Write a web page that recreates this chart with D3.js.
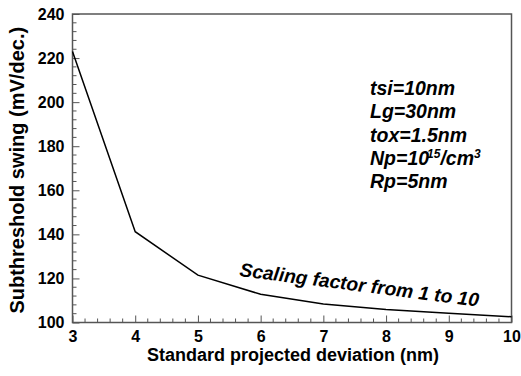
<!DOCTYPE html>
<html>
<head>
<meta charset="utf-8">
<script src="https://cdn.jsdelivr.net/npm/d3@7"></script>
<style>
  body { margin: 0; background: #fff; }
  svg { display: block; font-family: "Liberation Sans", Arial, sans-serif; }
</style>
</head>
<body>
<div id="chart"></div>
<script>
// data
const deviation = [3, 4, 5, 6, 7, 8, 9, 10];
const swing = [223, 141.2, 121.5, 112.8, 108.4, 105.9, 104.2, 102.6];
const xTicks = [3, 4, 5, 6, 7, 8, 9, 10];
const yTicks = [100, 120, 140, 160, 180, 200, 220, 240];
const paramLines = ["tsi=10nm", "Lg=30nm", "tox=1.5nm", "Np=10", "Rp=5nm"];

const W = 521, H = 376;
const margin = { top: 14, right: 9.5, bottom: 53.5, left: 72.5 },
    width = W - margin.left - margin.right,
    height = H - margin.top - margin.bottom;

const svg = d3.select("#chart").append("svg")
    .attr("width", W)
    .attr("height", H);

const g = svg.append("g")
    .attr("transform", `translate(${margin.left},${margin.top})`);

const x = d3.scaleLinear().domain([3, 10]).range([0, width]);
const y = d3.scaleLinear().domain([100, 240]).range([height, 0]);

// minor ticks (inward)
const xMinor = d3.range(3, 10.001, 0.2).filter(v => Math.abs(v - Math.round(v)) > 0.01);
const yMinor = d3.range(100, 240.001, 4).filter(v => v % 20 !== 0);

g.append("g").selectAll("line").data(xMinor).join("line")
    .attr("x1", d => x(d)).attr("x2", d => x(d))
    .attr("y1", height).attr("y2", height - 4)
    .attr("stroke", "#555").attr("stroke-width", 1);
g.append("g").selectAll("line").data(yMinor).join("line")
    .attr("y1", d => y(d)).attr("y2", d => y(d))
    .attr("x1", 0).attr("x2", 4)
    .attr("stroke", "#555").attr("stroke-width", 1);

// axes
const xAxis = g.append("g")
    .attr("transform", `translate(0,${height})`)
    .call(d3.axisBottom(x).tickValues(xTicks).tickFormat(d3.format("d"))
        .tickSizeInner(-7).tickSizeOuter(0).tickPadding(8));
const yAxis = g.append("g")
    .call(d3.axisLeft(y).tickValues(yTicks).tickFormat(d3.format("d"))
        .tickSizeInner(-7).tickSizeOuter(0).tickPadding(8));

[xAxis, yAxis].forEach(a => {
    a.select(".domain").remove();
    a.selectAll(".tick line").attr("stroke", "#555").attr("stroke-width", 1);
    a.selectAll(".tick text")
        .attr("fill", "#000")
        .style("font-size", "16px")
        .style("font-weight", "bold")
        .style("font-family", "'Liberation Sans', Arial, sans-serif");
});

// frame
g.append("rect")
    .attr("width", width).attr("height", height)
    .attr("fill", "none").attr("stroke", "#555").attr("stroke-width", 1.5);

// curve
g.append("path")
    .datum(deviation.map((d, i) => [d, swing[i]]))
    .attr("fill", "none")
    .attr("stroke", "#000")
    .attr("stroke-width", 1.5)
    .attr("d", d3.line().x(d => x(d[0])).y(d => y(d[1])));

// axis titles
svg.append("text")
    .attr("x", margin.left + width / 2 + 1)
    .attr("y", 361)
    .attr("text-anchor", "middle")
    .style("font-size", "18px")
    .style("font-weight", "bold")
    .text("Standard projected deviation (nm)");

svg.append("text")
    .attr("transform", `translate(24,${margin.top + height / 2 + 2}) rotate(-90)`)
    .attr("text-anchor", "middle")
    .style("font-size", "20px")
    .style("font-weight", "bold")
    .text("Subthreshold swing (mV/dec.)");

// parameter block
const params = svg.append("g")
    .style("font-size", "19.5px")
    .style("font-weight", "bold")
    .style("font-style", "italic");

paramLines.forEach((t, i) => {
    const txt = params.append("text")
        .attr("x", 370)
        .attr("y", 95 + i * 23.3);
    if (t === "Np=10") {
        txt.append("tspan").text("Np=10");
        txt.append("tspan").attr("dy", -7).attr("dx", -2).style("font-size", "12px").text("15");
        txt.append("tspan").attr("dy", 7).text("/cm");
        txt.append("tspan").attr("dy", -7).style("font-size", "12px").text("3");
    } else {
        txt.text(t);
    }
});

// scaling note
svg.append("text")
    .attr("transform", "translate(239,276) rotate(7.3)")
    .style("font-size", "19.2px")
    .style("font-weight", "bold")
    .style("font-style", "italic")
    .text("Scaling factor from 1 to 10");
</script>
</body>
</html>
